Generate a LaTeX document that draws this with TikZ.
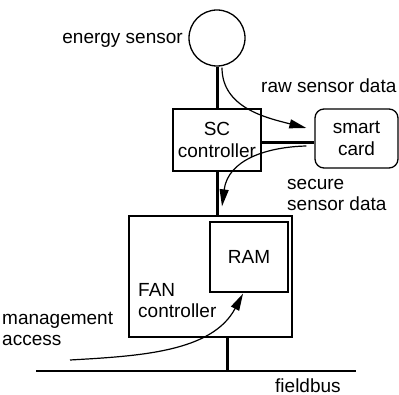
\documentclass[tikz,border=0pt]{standalone}
\usepackage{fontspec}
\setmainfont{Liberation Sans}
\usetikzlibrary{arrows.meta}

\begin{document}
\begin{tikzpicture}[x=1pt,y=-1pt,
  every node/.style={font=\fontsize{19}{21.5}\selectfont},
  unit/.style={draw, line width=1.3pt, align=center, inner sep=0pt},
  tag/.style={inner sep=0pt, align=left},
  wire/.style={line width=3pt},
  flow/.style={line width=1.2pt, -{Triangle[length=17pt,width=9pt]}}]
\useasboundingbox (0,0) rectangle (399,395);

% components
\node[unit, circle, minimum size=56pt] (sensor) at (217,38) {};
\node[unit, minimum width=88pt, minimum height=62pt] (sc) at (217,140) {SC\\controller};
\node[unit, rounded corners=9pt, minimum width=83pt, minimum height=59pt] (card) at (356.5,138.5) {smart\\card};
\node[unit, minimum width=163pt, minimum height=121pt] (fan) at (210.5,276.5) {};
\node[unit, minimum width=78pt, minimum height=70pt] (ram) at (249,257) {RAM};

% labels
\node[tag, anchor=base east] (lsensor) at (183,44) {energy sensor};
\node[tag, anchor=base west] (lraw) at (261,93) {raw sensor data};
\node[tag, anchor=north west] (lsecure) at (287,179) {secure\\sensor data};
\node[tag, anchor=north west] (lfan) at (138,283) {FAN\\controller};
\node[tag, anchor=north west] (lmgmt) at (2,312) {management\\access};
\node[tag, anchor=base west] (lbus) at (275,392) {fieldbus};

% bus
\coordinate (busW) at (36,371);
\coordinate (busE) at (356,371);
\coordinate (tap) at (227,371);
\coordinate (mgmtin) at (70,360);

% wiring
\draw[wire] (sensor) -- (sc);
\draw[wire] ([yshift=-3pt]sc.east) -- ([yshift=-3pt]sc.east -| card.west);
\draw[wire] (sc.south) -- (sc.south |- fan.north);
\draw[wire] (tap |- fan.south) -- (tap);
\draw[line width=1.5pt] (busW) -- (busE);

% data flows
\draw[flow] ([xshift=5pt,yshift=-1pt]sensor.south) .. controls (222,108) and (267,118) .. ([xshift=-8pt,yshift=10.5pt]card.west);
\draw[flow] ([xshift=-8pt,yshift=-7.5pt]card.west) .. controls (266,147) and (228,160) .. ([xshift=11.5pt,yshift=9pt]fan.north);
\draw[flow] (mgmtin) .. controls (140,356) and (212,352) .. ([xshift=-6pt,yshift=-1pt]ram.south);
\end{tikzpicture}
\end{document}
